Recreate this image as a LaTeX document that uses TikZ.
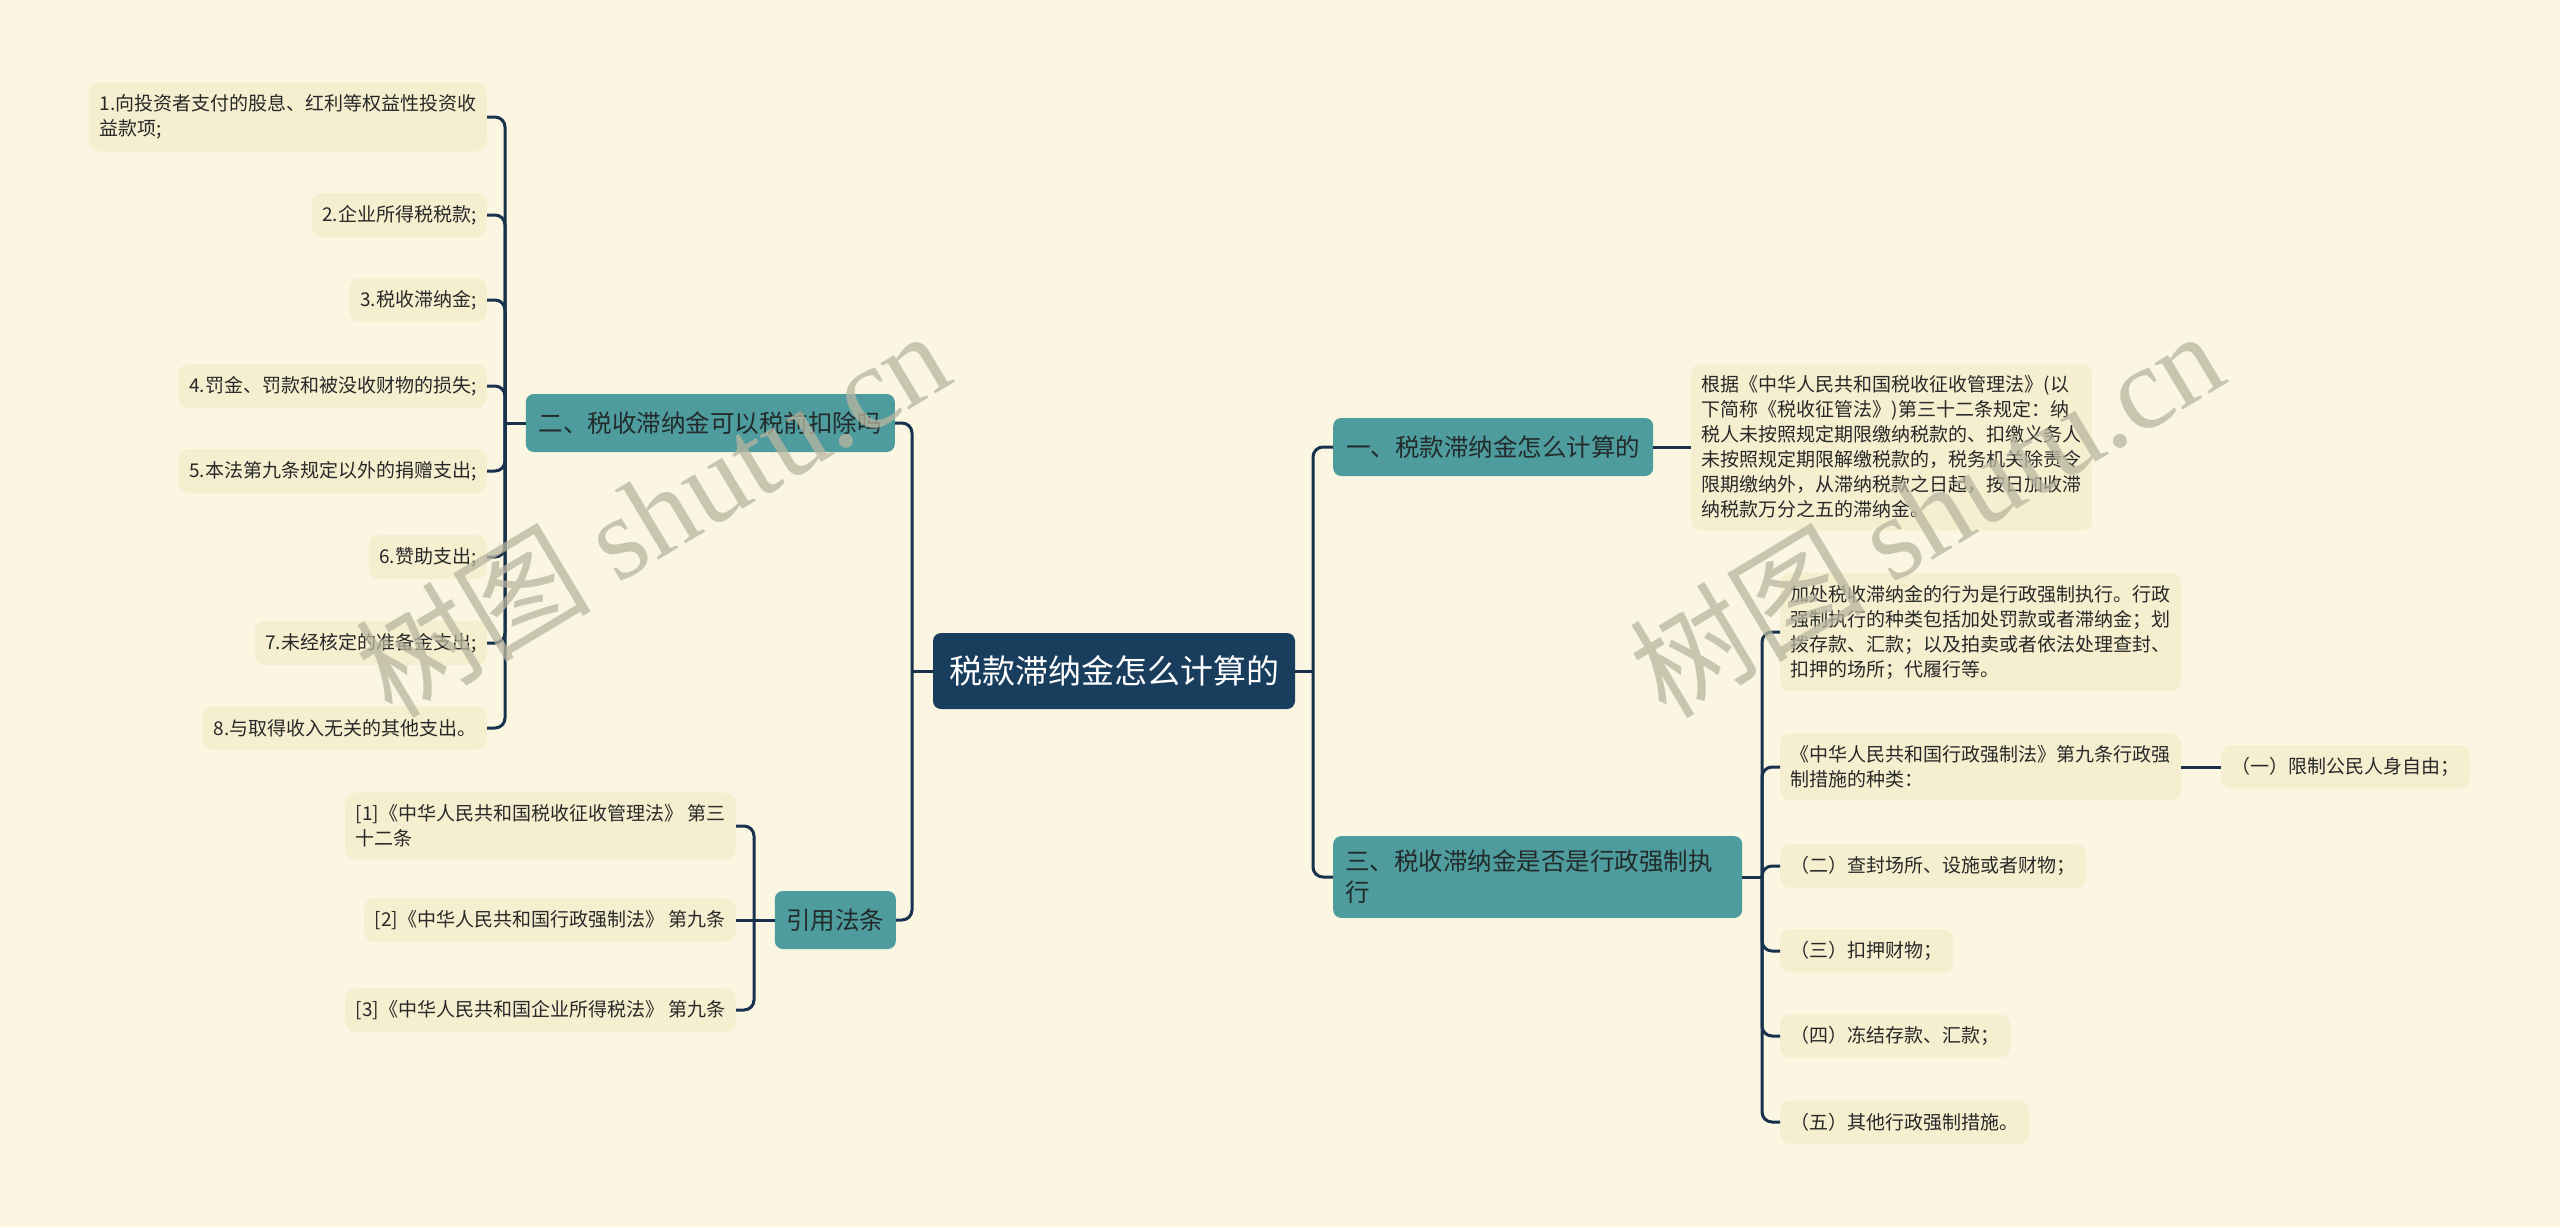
\documentclass[tikz,border=0pt]{standalone}
\usepackage{fontspec}
\setmainfont{Noto Sans CJK SC}
\newfontfamily\wmserif{Liberation Serif}
\usetikzlibrary{calc}
\definecolor{bg}{RGB}{250,246,225}
\definecolor{leaffill}{RGB}{245,239,208}
\definecolor{branchfill}{RGB}{78,156,158}
\definecolor{rootfill}{RGB}{25,61,93}
\definecolor{linec}{RGB}{24,50,78}
\definecolor{textc}{RGB}{40,40,40}
\definecolor{btext}{RGB}{35,42,42}
\definecolor{wmc}{RGB}{185,182,160}
\begin{document}
\begin{tikzpicture}[x=1pt,y=-1pt,
  leaf/.style={fill=leaffill, rounded corners=10pt, inner xsep=10.5pt, inner ysep=12pt,
    font=\fontsize{19}{25}\selectfont, text=textc, align=left, minimum height=43pt},
  branch/.style={fill=branchfill, rounded corners=8pt, inner xsep=13pt, inner ysep=14pt,
    font=\fontsize{24.5}{31}\selectfont, text=btext, align=left, minimum height=58pt},
  rootn/.style={fill=rootfill, rounded corners=8pt, inner xsep=16pt, inner ysep=10pt,
    font=\fontsize{33}{40}\selectfont, text=white, minimum height=76pt},
  conn/.style={draw=linec, line width=3pt, rounded corners=10pt},
  wm/.style={text=wmc, opacity=0.75, font=\fontsize{118}{128}\selectfont, inner sep=0pt}
]
\useasboundingbox (0,0) rectangle (2560,1227);
\fill[bg] (0,0) rectangle (2560,1227);

% root
\node[rootn] (root) at (1114,671) {税款滞纳金怎么计算的};

% left branch: 二
\node[branch, anchor=east] (b2) at (895,423) {二、税收滞纳金可以税前扣除吗};
\node[leaf, anchor=east] (l1) at (487,117) {1.向投资者支付的股息、红利等权益性投资收\\益款项;};
\node[leaf, anchor=east] (l2) at (487,215) {2.企业所得税税款;};
\node[leaf, anchor=east] (l3) at (487,300) {3.税收滞纳金;};
\node[leaf, anchor=east] (l4) at (487,386) {4.罚金、罚款和被没收财物的损失;};
\node[leaf, anchor=east] (l5) at (487,471) {5.本法第九条规定以外的捐赠支出;};
\node[leaf, anchor=east] (l6) at (487,557) {6.赞助支出;};
\node[leaf, anchor=east] (l7) at (487,643) {7.未经核定的准备金支出;};
\node[leaf, anchor=east] (l8) at (487,728) {8.与取得收入无关的其他支出。};

% left branch: 引用法条
\node[branch, anchor=east, inner xsep=11.5pt] (b4) at (896,920) {引用法条};
\node[leaf, anchor=east] (r1) at (736,826) {[1]《中华人民共和国税收征收管理法》 第三\\十二条};
\node[leaf, anchor=east] (r2) at (736,920) {[2]《中华人民共和国行政强制法》 第九条};
\node[leaf, anchor=east] (r3) at (736,1010) {[3]《中华人民共和国企业所得税法》 第九条};

% right branch: 一
\node[branch, anchor=west] (b1) at (1333,447) {一、税款滞纳金怎么计算的};
\node[leaf, anchor=west] (t1) at (1691,447) {根据《中华人民共和国税收征收管理法》(以\\下简称《税收征管法》)第三十二条规定：纳\\税人未按照规定期限缴纳税款的、扣缴义务人\\未按照规定期限解缴税款的，税务机关除责令\\限期缴纳外，从滞纳税款之日起，按日加收滞\\纳税款万分之五的滞纳金。};

% right branch: 三
\node[branch, anchor=west, text width=385pt, inner xsep=12pt] (b3) at (1333,877) {三、税收滞纳金是否是行政强制执\\行};
\node[leaf, anchor=west] (c1) at (1780,632) {加处税收滞纳金的行为是行政强制执行。行政\\强制执行的种类包括加处罚款或者滞纳金；划\\拨存款、汇款；以及拍卖或者依法处理查封、\\扣押的场所；代履行等。};
\node[leaf, anchor=west] (c2) at (1780,767) {《中华人民共和国行政强制法》第九条行政强\\制措施的种类：};
\node[leaf, anchor=west] (c2a) at (2221,767) {（一）限制公民人身自由；};
\node[leaf, anchor=west] (c3) at (1780,866) {（二）查封场所、设施或者财物；};
\node[leaf, anchor=west] (c4) at (1780,951) {（三）扣押财物；};
\node[leaf, anchor=west] (c5) at (1780,1036) {（四）冻结存款、汇款；};
\node[leaf, anchor=west] (c6) at (1780,1122) {（五）其他行政强制措施。};

% junctions
\coordinate (jL) at (505,423);
\coordinate (jR) at (754,920);
\coordinate (jRootL) at (912,671);
\coordinate (jRootR) at (1313,671);
\coordinate (j3) at (1762,877);

% connectors left
\draw[conn] (root.west) -- (jRootL);
\foreach \c in {b2,b4} \draw[conn] (\c.east) -- (\c.east -| jRootL) -- (jRootL);
\draw[conn] (b2.west) -- (jL);
\foreach \c in {l1,l2,l3,l4,l5,l6,l7,l8} \draw[conn] (\c.east) -- (\c.east -| jL) -- (jL);
\draw[conn] (b4.west) -- (jR);
\draw[conn] (r2.east) -- (jR);
\foreach \c in {r1,r3} \draw[conn] (\c.east) -- (\c.east -| jR) -- (jR);

% connectors right
\draw[conn] (root.east) -- (jRootR);
\foreach \c in {b1,b3} \draw[conn] (\c.west) -- (\c.west -| jRootR) -- (jRootR);
\draw[conn] (b1.east) -- (t1.west);
\draw[conn] (b3.east) -- (j3);
\foreach \c in {c1,c2,c3,c4,c5,c6} \draw[conn] (\c.west) -- (\c.west -| j3) -- (j3);
\draw[conn] (c2.east) -- (c2a.west);

% watermarks
\node[wm, rotate=31] (wm1) at (652,512) {树图 {\wmserif shutu.cn}};
\node[wm, rotate=31] (wm2) at (1926,512) {树图 {\wmserif shutu.cn}};
\end{tikzpicture}
\end{document}
